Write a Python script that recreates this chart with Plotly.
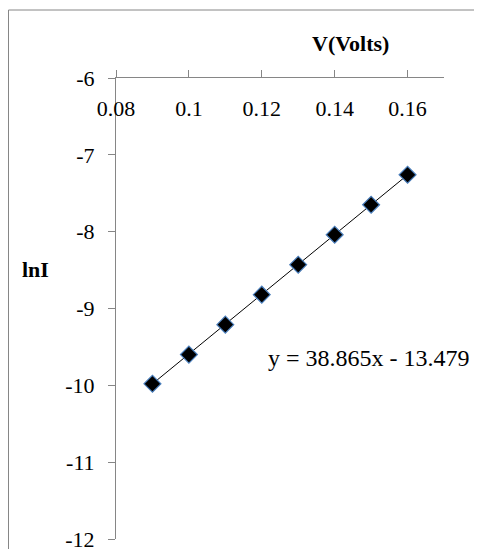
import plotly.graph_objects as go

# data
voltage = [0.09, 0.10, 0.11, 0.12, 0.13, 0.14, 0.15, 0.16]
ln_current = [-9.98, -9.60, -9.21, -8.82, -8.43, -8.04, -7.65, -7.26]
slope = 38.865
intercept = -13.479
x_tick_vals = [0.08, 0.10, 0.12, 0.14, 0.16]
x_tick_text = ["0.08", "0.1", "0.12", "0.14", "0.16"]
y_tick_vals = [-12, -11, -10, -9, -8, -7, -6]
y_tick_text = ["-12", "-11", "-10", "-9", "-8", "-7", "-6"]

FONT = "Liberation Serif, Times New Roman, serif"
AXIS_GREY = "#868686"

# the page puts the figure 8px in from the top-left corner
OFF = 8
W, H = 482 - OFF, 549 - OFF
L, R, T, B = 116 - OFF, 38, 78 - OFF, 10

fit_x = [min(voltage), max(voltage)]
fit_y = [slope * v + intercept for v in fit_x]

fig = go.Figure()
fig.add_trace(go.Scatter(x=fit_x, y=fit_y, mode="lines",
                         line=dict(color="black", width=1), hoverinfo="skip",
                         showlegend=False))
fig.add_trace(go.Scatter(x=voltage, y=ln_current, mode="markers",
                         marker=dict(symbol="diamond", size=13, color="black",
                                     line=dict(color="#4a7ebb", width=1.2)),
                         showlegend=False))

plot_w = W - L - R
plot_h = H - T - B

def px_x(p):
    # p in page pixels
    return (p - OFF - L) / plot_w

def px_y(p):
    return (H - B - (p - OFF)) / plot_h

# outer chart border
fig.add_shape(type="rect", xref="paper", yref="paper",
              x0=px_x(OFF + 0.5), x1=px_x(482 + 20), y0=px_y(549 + 20), y1=px_y(10),
              line=dict(color=AXIS_GREY, width=1), fillcolor="rgba(0,0,0,0)",
              layer="below")

fig.add_annotation(text="<b>V(Volts)</b>", xref="paper", yref="paper",
                   x=px_x(350), y=px_y(44), showarrow=False,
                   font=dict(family=FONT, size=22, color="black"),
                   xanchor="center", yanchor="middle")
fig.add_annotation(text="<b>lnI</b>", xref="paper", yref="paper",
                   x=px_x(35.5), y=px_y(269), showarrow=False,
                   font=dict(family=FONT, size=22, color="black"),
                   xanchor="center", yanchor="middle")
fig.add_annotation(text="y = 38.865x - 13.479", xref="paper", yref="paper",
                   x=px_x(368.5), y=px_y(358), showarrow=False,
                   font=dict(family=FONT, size=24, color="black"),
                   xanchor="center", yanchor="middle")

fig.update_layout(
    width=W, height=H,
    margin=dict(l=L, r=R, t=T, b=B),
    paper_bgcolor="white", plot_bgcolor="white",
    font=dict(family=FONT, size=22, color="black"),
    xaxis=dict(range=[0.08, 0.17], side="top", anchor="y",
               tickvals=x_tick_vals, ticktext=x_tick_text,
               ticks="outside", ticklen=7, tickcolor=AXIS_GREY,
               ticklabelposition="inside", ticklabelstandoff=24,
               ticklabeloverflow="allow", automargin=False,
               showline=True, linecolor=AXIS_GREY, linewidth=1,
               showgrid=False, zeroline=False,
               tickfont=dict(family=FONT, size=22, color="black")),
    yaxis=dict(range=[-12, -6],
               tickvals=y_tick_vals, ticktext=y_tick_text,
               ticks="outside", ticklen=7, tickcolor=AXIS_GREY,
               ticklabelstandoff=9, ticklabeloverflow="allow",
               automargin=False,
               showline=True, linecolor=AXIS_GREY, linewidth=1,
               showgrid=False, zeroline=False,
               tickfont=dict(family=FONT, size=22, color="black")),
)

fig.write_html("out.html")
